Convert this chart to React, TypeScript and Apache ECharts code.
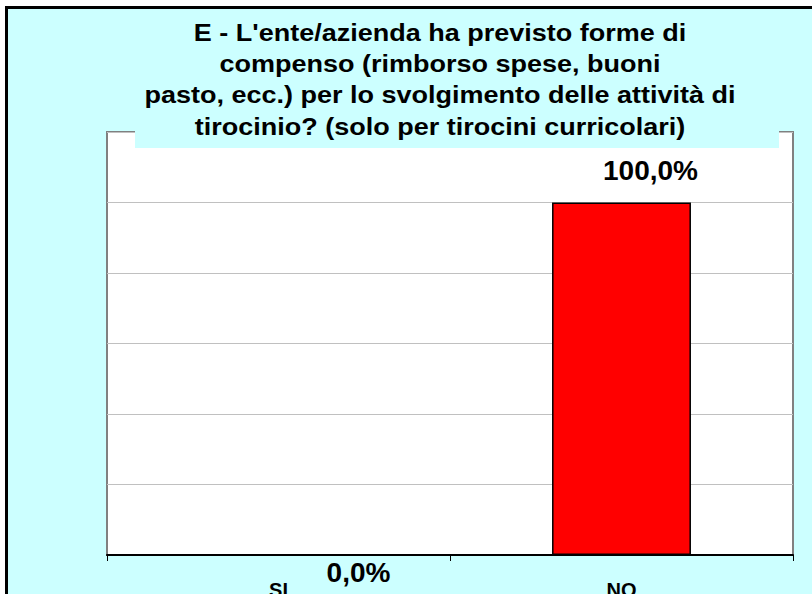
import React, { useEffect, useRef } from 'react';
import * as echarts from 'echarts';

const TITLE_LINES = [
  "E - L'ente/azienda ha previsto forme di",
  'compenso (rimborso spese, buoni',
  'pasto, ecc.) per lo svolgimento delle attività di',
  'tirocinio? (solo per tirocini curricolari)',
];
const CATEGORIES = ['SI', 'NO'];
const VALUES = [0, 100];
const Y_MIN = 0;
const Y_MAX = 120;
const Y_STEP = 20;

const fmt = (v: number) => v.toFixed(1).replace('.', ',') + '%';

export default function App() {
  const ref = useRef<HTMLDivElement>(null);
  useEffect(() => {
    if (!ref.current) return;
    const chart = echarts.init(ref.current, null, { renderer: 'svg' });
    const font = '"Liberation Sans", Arial, sans-serif';
    const titleCenterX = 432;
    const titleTop = 23;
    const lineGap = 31.3;
    chart.setOption({
      animation: false,
      backgroundColor: '#CCFFFF',
      textStyle: { fontFamily: font },
      grid: {
        left: 99,
        top: 123,
        width: 686,
        height: 423,
        show: true,
        backgroundColor: '#FFFFFF',
        borderColor: '#808080',
        borderWidth: 2,
      },
      xAxis: {
        type: 'category',
        data: CATEGORIES,
        boundaryGap: true,
        axisLine: { show: true, lineStyle: { color: '#000', width: 2 } },
        axisTick: { show: true, length: 6, lineStyle: { color: '#000', width: 1 } },
        axisLabel: {
          margin: 25,
          fontSize: 20,
          fontWeight: 'bold',
          color: '#000',
          fontFamily: font,
        },
      },
      yAxis: {
        type: 'value',
        min: Y_MIN,
        max: Y_MAX,
        interval: Y_STEP,
        axisLine: { show: false },
        axisTick: { show: false },
        axisLabel: { show: false },
        splitLine: { show: true, lineStyle: { color: '#C0C0C0', width: 1 } },
      },
      series: [
        {
          type: 'bar',
          barWidth: '40.5%',
          data: VALUES.map((v, i) =>
            i === 0
              ? {
                  value: v,
                  label: { position: 'bottom', distance: 3, offset: [80, 0] },
                }
              : { value: v, label: { offset: [29, 0] } }
          ),
          itemStyle: { color: '#FF0000', borderColor: '#000', borderWidth: 1.5 },
          label: {
            show: true,
            position: 'top',
            distance: 18,
            fontSize: 28,
            fontWeight: 'bold',
            color: '#000',
            fontFamily: font,
            formatter: (p: any) => fmt(p.value),
          },
        },
      ],
      graphic: [
        {
          type: 'rect',
          z: 10,
          shape: { x: 127, y: 0, width: 644, height: 139 },
          style: { fill: '#CCFFFF' },
          silent: true,
        },
        ...TITLE_LINES.map((t, i) => ({
          type: 'text',
          z: 11,
          x: titleCenterX,
          y: titleTop + i * lineGap,
          scaleY: 0.92,
          style: {
            text: t,
            fill: '#000',
            font: `bold 27px ${font}`,
            align: 'center',
            verticalAlign: 'middle',
          },
        })),
      ],
    });
    return () => chart.dispose();
  }, []);
  return (
    <div style={{ position: 'fixed', inset: 0, overflow: 'hidden', background: '#fff' }}>
      <div
        style={{
          position: 'absolute',
          left: 5,
          top: 6,
          width: 830,
          height: 620,
          border: '3px solid #000',
          background: '#CCFFFF',
        }}
      >
        <div ref={ref} style={{ width: 830, height: 620 }} />
      </div>
    </div>
  );
}
